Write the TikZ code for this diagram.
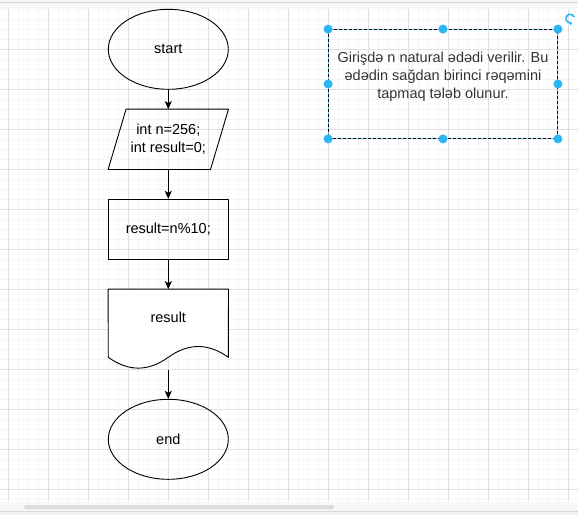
\documentclass[tikz,border=0pt]{standalone}
\usepackage{fontspec}
\setmainfont{Liberation Sans}
\usetikzlibrary{shapes.geometric,arrows.meta,calc}
\tikzset{>={Stealth[length=8pt,width=7pt,inset=2pt]}}
\definecolor{gridmin}{HTML}{F5F5F5}
\definecolor{gridmaj}{HTML}{E0E0E0}
\definecolor{handle}{HTML}{29B6F2}
\definecolor{notetext}{HTML}{333333}
\definecolor{barbg}{HTML}{F8F8F8}
\definecolor{barline}{HTML}{D6D6D6}
\definecolor{scroll}{HTML}{DEDEDE}
\definecolor{footbg}{HTML}{EEF0F4}

\begin{document}
\begin{tikzpicture}[x=1pt, y=-1pt, line join=round,
    txt/.style={font=\fontsize{14.5}{18}\selectfont, align=center, inner sep=0pt},
    term/.style={txt, ellipse, draw, line width=0.9pt, minimum width=120pt, minimum height=80pt},
    io/.style={txt, rectangle, minimum width=120pt, minimum height=60pt},
    proc/.style={txt, rectangle, draw, line width=0.9pt, minimum width=120pt, minimum height=60pt},
    docbox/.style={rectangle, minimum width=120pt, minimum height=80pt, inner sep=0pt},
    selbox/.style={rectangle, minimum width=229.4pt, minimum height=109.4pt, inner sep=0pt},
    flow/.style={->, line width=0.9pt}]
    \useasboundingbox (0,0) rectangle (578,515);

    % canvas and grid
    \fill[barbg] (0,0) rectangle (578,515);
    \draw[barline] (0,1.7) -- (578,1.7);
    \fill[white] (0,9.3) rectangle (578,501.7);
    \foreach \i in {0,...,56}
        \draw[gridmin, line width=0.6pt] (8.3+10*\i,9.3) -- (8.3+10*\i,501.7);
    \foreach \j in {1,...,49}
        \draw[gridmin, line width=0.6pt] (0,9.3+10*\j) -- (578,9.3+10*\j);
    \foreach \i in {0,...,14}
        \draw[gridmaj, line width=0.8pt] (8.3+40*\i,9.3) -- (8.3+40*\i,501.7);
    \foreach \j in {1,...,12}
        \draw[gridmaj, line width=0.8pt] (0,9.3+40*\j) -- (578,9.3+40*\j);
    \fill[scroll, rounded corners=2pt] (24,505) rectangle (334,509.3);
    \fill[footbg] (0,511) rectangle (578,515);
    \draw[barline] (0,511) -- (578,511);

    % flowchart
    \node[term] (start) at (168.3,49.3) {start};
    \node[io] (init) at (168.3,139.3) {int n=256;\\int result=0;};
    \node[proc] (calc) at (168.3,229.3) {result=n\%10;};
    \node[docbox] (out) at (168.3,329.3) {};
    \node[term] (stop) at (168.3,439.3) {end};

    \draw[line width=0.9pt] ($(init.north west)+(18,0)$) -- (init.north east)
        -- ($(init.south east)+(-18,0)$) -- (init.south west) -- cycle;
    \draw[fill=white, line width=0.9pt] (out.north west) -- (out.north east) -- (228.3,357.3)
        .. controls (208.3,342.9) and (188.3,342.9) .. (168.3,357.3)
        .. controls (148.3,371.7) and (128.3,371.7) .. (108.3,357.3) -- cycle;
    \node[txt] (outtext) at (168.3,317.3) {result};

    \draw[flow] (start) -- (init);
    \draw[flow] (init) -- (calc);
    \draw[flow] (calc) -- (out);
    \draw[flow] (out) -- (stop);

    % selected text box
    \node[selbox] (task) at (443,84) {};
    \draw[handle!70, line width=0.9pt] (task.north west) rectangle (task.south east);
    \draw[black, line width=0.9pt, dash pattern=on 3pt off 2pt] (task.north west) rectangle (task.south east);
    \node[txt, text=notetext] (tasktext) at (443,76.5)
        {Girişdə n natural ədədi verilir. Bu\\ədədin sağdan birinci rəqəmini\\tapmaq tələb olunur.};
    \foreach \a in {north west,north,north east,east,south east,south,south west,west}
        \fill[handle] (task.\a) circle (4.5pt);
    \draw[handle, line width=1.6pt, -{Latex[length=3pt,width=4pt]}] (574.2,17) arc[start angle=-20, end angle=-300, radius=4.3];
\end{tikzpicture}
\end{document}
